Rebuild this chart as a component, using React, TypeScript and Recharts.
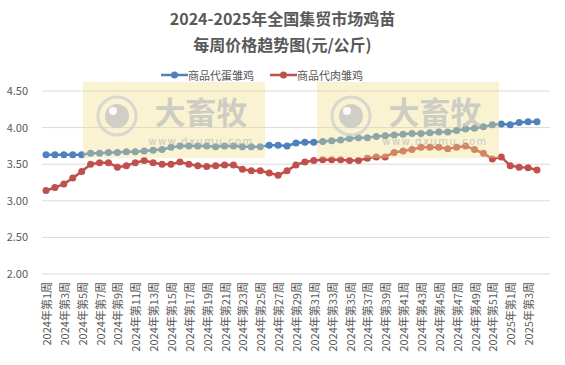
import { LineChart, Line, XAxis, YAxis, CartesianGrid } from 'recharts'

// weekly categories: 2024 wk1-52, 2025 wk1-4
const weeks2024 = Array.from({ length: 52 }, (_, i) => `2024年第${i + 1}周`)
const weeks2025 = ['2025年第1周', '2025年第2周', '2025年第3周', '2025年第4周']
const categories = [...weeks2024, ...weeks2025]

const eggChick = [
    3.63, 3.63, 3.63, 3.63, 3.63, 3.65, 3.65, 3.66, 3.66, 3.67,
    3.67, 3.68, 3.69, 3.70, 3.73, 3.75, 3.75, 3.75, 3.75, 3.74,
    3.75, 3.75, 3.74, 3.74, 3.74, 3.76, 3.76, 3.75, 3.79, 3.80,
    3.80, 3.81, 3.82, 3.83, 3.85, 3.86, 3.86, 3.88, 3.89, 3.90,
    3.91, 3.92, 3.92, 3.93, 3.94, 3.94, 3.96, 3.98, 3.99, 4.01,
    4.04, 4.05, 4.04, 4.07, 4.08, 4.08
]

const meatChick = [
    3.14, 3.18, 3.23, 3.31, 3.40, 3.50, 3.52, 3.52, 3.46, 3.48,
    3.52, 3.55, 3.52, 3.50, 3.50, 3.53, 3.50, 3.48, 3.47, 3.48,
    3.49, 3.49, 3.43, 3.41, 3.41, 3.38, 3.35, 3.41, 3.49, 3.53,
    3.55, 3.56, 3.56, 3.56, 3.55, 3.55, 3.58, 3.60, 3.60, 3.66,
    3.68, 3.70, 3.73, 3.73, 3.73, 3.71, 3.73, 3.75, 3.70, 3.65,
    3.57, 3.60, 3.48, 3.46, 3.45, 3.42
]

const yTicks = [2.0, 2.5, 3.0, 3.5, 4.0, 4.5]

const BLUE = '#4F81BD'
const RED = '#C0504D'
const TEXT = '#595959'
const FONT = '"Noto Sans CJK SC", "Noto Sans", sans-serif'

const data = categories.map((name, i) => ({ name, egg: eggChick[i], meat: meatChick[i] }))

const legendItems = [
    { label: '商品代蛋雏鸡', color: BLUE },
    { label: '商品代肉雏鸡', color: RED }
]

const XTick = (props: any) => {
    const { x, payload } = props
    const y = 282
    return (
        <text
            x={x}
            y={y}
            transform={`rotate(-90, ${x}, ${y})`}
            textAnchor="end"
            dominantBaseline="central"
            fill={TEXT}
            fontSize={11}
            fontFamily={FONT}
        >
            {payload.value}
        </text>
    )
}

// 大畜牧 watermark boxes drawn over the plot
const Watermark = ({ x }: { x: number }) => (
    <g>
        <rect x={x} y={82} width={182} height={76} fill="#EEE08A" opacity={0.38} />
        <circle cx={x + 34} cy={116} r={19} fill="none" stroke="#CFCFCF" strokeWidth={3} opacity={0.8} />
        <circle cx={x + 34} cy={116} r={12} fill="#C4C4C4" opacity={0.8} />
        <circle cx={x + 30} cy={111} r={4} fill="#FFFFFF" opacity={0.9} />
        <text x={x + 118} y={124} textAnchor="middle" fontSize={31} fontWeight="bold" fill="#BDBDBD" opacity={0.7} fontFamily={FONT}>
            大畜牧
        </text>
        <text x={x + 118} y={145} textAnchor="middle" fontSize={10} letterSpacing={1.5} fill="#BDBDBD" opacity={0.8} fontFamily='"DejaVu Sans", sans-serif'>
            www.dxumu.com
        </text>
    </g>
)

export default function App() {
    return (
        <div style={{ position: 'fixed', left: 0, top: 0, width: 565, height: 365, background: '#fff', fontFamily: FONT }}>
            <div style={{ position: 'absolute', top: 5, left: 0, width: 565, textAlign: 'center', fontSize: 16, fontWeight: 'bold', color: TEXT, lineHeight: '26px' }}>
                <div>2024-2025年全国集贸市场鸡苗</div>
                <div>每周价格趋势图(元/公斤)</div>
            </div>
            <div style={{ position: 'absolute', top: 68, left: 161, display: 'flex', gap: 16, fontSize: 11, color: TEXT }}>
                {legendItems.map((item) => (
                    <div key={item.label} style={{ display: 'flex', alignItems: 'center' }}>
                        <svg width={27} height={10}>
                            <line x1={0} y1={5} x2={27} y2={5} stroke={item.color} strokeWidth={2.5} />
                            <circle cx={13.5} cy={5} r={3.5} fill={item.color} />
                        </svg>
                        <span style={{ lineHeight: '14px' }}>{item.label}</span>
                    </div>
                ))}
            </div>
            <div style={{ position: 'absolute', left: 0, top: 0 }}>
                <LineChart width={565} height={365} data={data} margin={{ top: 91, right: 15, bottom: 0, left: 0 }}>
                    <CartesianGrid vertical={false} stroke="#D9D9D9" />
                    <XAxis
                        dataKey="name"
                        interval={1}
                        height={91}
                        axisLine={false}
                        tickLine={false}
                        padding={{ left: 4, right: 13 }}
                        tick={<XTick />}
                    />
                    <YAxis
                        width={42}
                        domain={[2, 4.5]}
                        ticks={yTicks}
                        axisLine={false}
                        tickLine={false}
                        tickMargin={8}
                        tickFormatter={(v: number) => v.toFixed(2)}
                        tick={{ fill: TEXT, fontSize: 11, fontFamily: FONT }}
                    />
                    <Line
                        dataKey="egg"
                        name="商品代蛋雏鸡"
                        stroke={BLUE}
                        strokeWidth={2.5}
                        dot={{ r: 3.5, fill: BLUE, stroke: BLUE, strokeWidth: 0 }}
                        isAnimationActive={false}
                    />
                    <Line
                        dataKey="meat"
                        name="商品代肉雏鸡"
                        stroke={RED}
                        strokeWidth={2.5}
                        dot={{ r: 3.5, fill: RED, stroke: RED, strokeWidth: 0 }}
                        isAnimationActive={false}
                    />
                </LineChart>
            </div>
            <svg width={565} height={365} style={{ position: 'absolute', left: 0, top: 0, pointerEvents: 'none' }}>
                <Watermark x={83} />
                <Watermark x={317} />
            </svg>
        </div>
    )
}
